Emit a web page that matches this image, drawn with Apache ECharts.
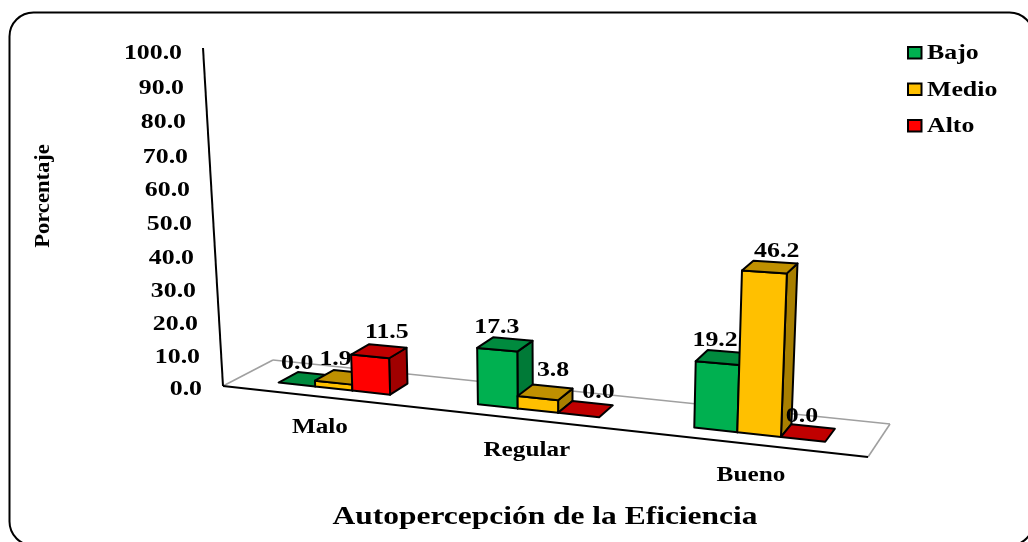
<!DOCTYPE html>
<html>
<head>
<meta charset="utf-8">
<style>html,body{margin:0;padding:0;background:#fff}#chart{width:1028px;height:542px}</style>
<script src="https://cdn.jsdelivr.net/npm/echarts@6/dist/echarts.min.js"></script>
</head>
<body>
<div id="chart"></div>
<script>
// Chart data
const categories = ['Malo', 'Regular', 'Bueno'];
const bajo = [0.0, 17.3, 19.2];
const medio = [1.9, 3.8, 46.2];
const alto = [11.5, 0.0, 0.0];
const seriesNames = ['Bajo', 'Medio', 'Alto'];
const yTicks = [0, 10, 20, 30, 40, 50, 60, 70, 80, 90, 100];

// Face colours per series: front, top, side
const faces = [
  ['#00B050', '#008A3E', '#007A37'],
  ['#FFC000', '#BF9000', '#A87F00'],
  ['#FF0000', '#C00000', '#A00000']
];

// Oblique floor of the 3D scene: front-left, front-right, back-left, back-right
const floorFL = [223, 386], floorFR = [868, 457], floorBL = [273, 360], floorBR = [890, 424];
const barFrontDepth = 0.3, barBackDepth = 0.7, barSlot = 0.19;

// Value-label nudges from the top-face centre, [series][category] => [dx, dy]
const labelNudge = [
  [[-9, -16], [-8, -17], [-8, -17]],
  [[-7, -18], [8, -22], [7, -15]],
  [[8, -19], [13, -16], [-6, -16]]
];

const serif = '"Liberation Serif", "Times New Roman", serif';
const stretch = 1.23;

function mix(a, b, f) { return a + (b - a) * f; }

// Horizontal position along the floor, widening slightly toward the viewer's right
function floorPoint(t, d) {
  const u = 0.8817 * t + 0.1206 * t * t;
  const fx = mix(floorFL[0], floorFR[0], u), fy = mix(floorFL[1], floorFR[1], u);
  const bx = mix(floorBL[0], floorBR[0], u), by = mix(floorBL[1], floorBR[1], u);
  return [mix(fx, bx, d), mix(fy, by, d)];
}

// Lift a floor point by a value, using the value axis for its pixel height
function lift(api, p, v, d) {
  const base = api.coord([0, 0])[1];
  const scale = (3.13 + (p[0] - 353) * 0.00096) / 3.35;
  const h = (base - api.coord([0, v])[1]) * scale * (1 - 0.02 * (d - barFrontDepth) / (barBackDepth - barFrontDepth));
  return [p[0] + (p[0] - 560) * 0.000163 * h, p[1] - h];
}

function poly(points, fill) {
  return {
    type: 'polygon',
    shape: { points: points },
    style: { fill: fill, stroke: '#000', lineWidth: 2, lineJoin: 'round' }
  };
}

function line(a, b, color, width) {
  return {
    type: 'line',
    shape: { x1: a[0], y1: a[1], x2: b[0], y2: b[1] },
    style: { stroke: color, lineWidth: width, fill: null }
  };
}

function barCorners(params, api, si) {
  const cat = api.value(0), v = api.value(1);
  const rect = params.coordSys;
  const band = api.size([1, 0])[0];
  const cx = api.coord([cat, 0])[0];
  const tL = (cx + (si - 1.5) * barSlot * band - rect.x) / rect.width;
  const tR = (cx + (si - 0.5) * barSlot * band - rect.x) / rect.width;
  const fl = floorPoint(tL, barFrontDepth), fr = floorPoint(tR, barFrontDepth);
  const bl = floorPoint(tL, barBackDepth), br = floorPoint(tR, barBackDepth);
  return {
    v: v, fl: fl, fr: fr, bl: bl, br: br,
    tfl: lift(api, fl, v, barFrontDepth), tfr: lift(api, fr, v, barFrontDepth),
    tbl: lift(api, bl, v, barBackDepth), tbr: lift(api, br, v, barBackDepth)
  };
}

function renderBar(si) {
  return function (params, api) {
    const c = barCorners(params, api, si);
    const children = [];
    if (c.v > 0) {
      children.push(poly([c.fr, c.br, c.tbr, c.tfr], faces[si][2]));
      children.push(poly([c.fl, c.fr, c.tfr, c.tfl], faces[si][0]));
    }
    children.push(poly([c.tfl, c.tfr, c.tbr, c.tbl], faces[si][1]));
    return { type: 'group', children: children };
  };
}

function renderValueLabel(si) {
  return function (params, api) {
    const c = barCorners(params, api, si);
    const nudge = labelNudge[si][api.value(0)];
    return {
      type: 'text',
      x: (c.tfl[0] + c.tbr[0]) / 2 + nudge[0],
      y: (c.tfl[1] + c.tbr[1]) / 2 + nudge[1],
      scaleX: stretch,
      style: {
        text: api.value(1).toFixed(1), fill: '#000', align: 'center', verticalAlign: 'middle',
        fontFamily: serif, fontWeight: 'bold', fontSize: 21
      }
    };
  };
}

function renderFloor(params, api) {
  const top = [floorFL[0] - 20, api.coord([0, 100])[1] - 4];
  return {
    type: 'group',
    children: [
      { type: 'polygon', shape: { points: [floorFL, floorFR, floorBR, floorBL] }, style: { fill: '#fff' } },
      line(floorFL, floorBL, '#a0a0a0', 1.6),
      line(floorBL, floorBR, '#a0a0a0', 1.6),
      line(floorFR, floorBR, '#a0a0a0', 1.6),
      line(floorFL, floorFR, '#000', 2),
      line(floorFL, top, '#000', 2)
    ]
  };
}

// Tick labels follow the slanted value axis, spreading a little toward the top
function renderTick(params, api) {
  const v = api.value(1);
  return {
    type: 'text',
    x: 182 + (100 - v) * 0.2,
    y: api.coord([0, v])[1] + 3 + v * 0.1 - v * v * 0.0011,
    scaleX: stretch,
    style: {
      text: v.toFixed(1), fill: '#000', align: 'right', verticalAlign: 'middle',
      fontFamily: serif, fontWeight: 'bold', fontSize: 21
    }
  };
}

function renderCategory(params, api) {
  const cat = api.value(0);
  const rect = params.coordSys;
  const t = (api.coord([cat, 0])[0] - rect.x) / rect.width;
  const p = floorPoint(t, 0);
  return {
    type: 'text',
    x: p[0],
    y: p[1] + 31.5,
    scaleX: stretch,
    style: {
      text: categories[cat], fill: '#000', align: 'center', verticalAlign: 'middle',
      fontFamily: serif, fontWeight: 'bold', fontSize: 20.5
    }
  };
}

const valueSets = [bajo, medio, alto];
const series = [
  { type: 'custom', name: 'floor', z: 1, silent: true, renderItem: renderFloor, data: [[0, 0]] },
  { type: 'custom', name: 'ticks', z: 2, silent: true, renderItem: renderTick, data: yTicks.map(v => [0, v]) },
  { type: 'custom', name: 'categories', z: 2, silent: true, renderItem: renderCategory, data: categories.map((c, i) => [i, 0]) }
];
valueSets.forEach((vals, si) => {
  series.push({
    type: 'custom', name: seriesNames[si], z: 3 + si, renderItem: renderBar(si),
    itemStyle: { color: faces[si][0] },
    data: vals.map((v, i) => [i, v])
  });
});
valueSets.forEach((vals, si) => {
  series.push({
    type: 'custom', name: seriesNames[si] + ' labels', z: 10, silent: true, renderItem: renderValueLabel(si),
    data: vals.map((v, i) => [i, v])
  });
});

function caption(text, x, y, size, extra) {
  return Object.assign({
    type: 'text', x: x, y: y, scaleX: stretch, silent: true,
    style: {
      text: text, fill: '#000', align: 'center', verticalAlign: 'middle',
      fontFamily: serif, fontWeight: 'bold', fontSize: size
    }
  }, extra || {});
}

const legendRows = [53, 89.5, 126];
const graphic = [
  {
    type: 'rect', silent: true, z: 0,
    shape: { x: 9.5, y: 12.5, width: 1024, height: 533, r: 24 },
    style: { fill: 'none', stroke: '#000', lineWidth: 2 }
  },
  caption('Autopercepción de la Eficiencia', 545, 517, 26, { scaleX: 1.21 }),
  caption('Porcentaje', 44, 196, 20, { rotation: Math.PI / 2, scaleX: 1.13 })
];
seriesNames.forEach((name, i) => {
  graphic.push({
    type: 'rect', silent: true,
    shape: { x: 908, y: legendRows[i] - 6, width: 13.5, height: 11.5 },
    style: { fill: faces[i][0], stroke: '#000', lineWidth: 2 }
  });
  graphic.push(caption(name, 927, legendRows[i] + 1, 21, {
    style: {
      text: name, fill: '#000', align: 'left', verticalAlign: 'middle',
      fontFamily: serif, fontWeight: 'bold', fontSize: 21
    }
  }));
});

const chart = echarts.init(document.getElementById('chart'), null, { renderer: 'canvas' });
chart.setOption({
  animation: false,
  backgroundColor: '#fff',
  grid: { left: floorFL[0], right: 1028 - floorFR[0], top: 52, bottom: 155, containLabel: false },
  xAxis: { type: 'category', data: categories, show: false },
  yAxis: { type: 'value', min: 0, max: 100, interval: 10, show: false },
  graphic: graphic,
  series: series
});
</script>
</body>
</html>
